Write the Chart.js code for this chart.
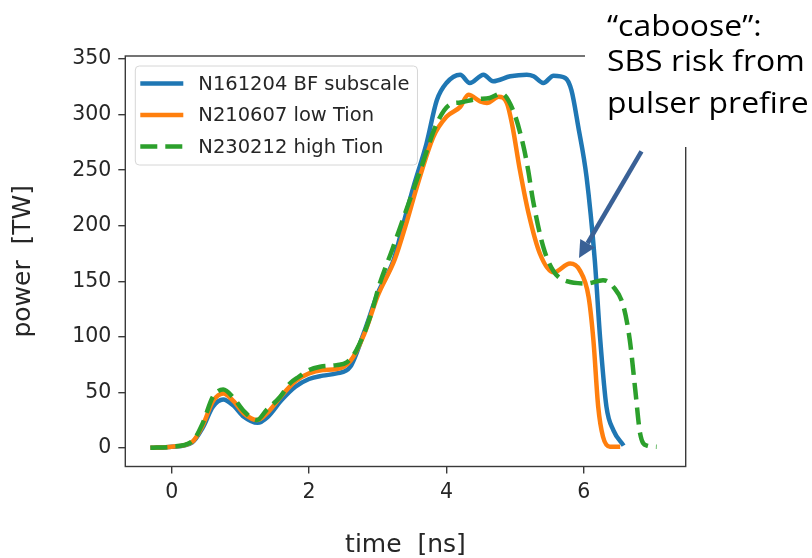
<!DOCTYPE html>
<html>
<head>
<meta charset="utf-8">
<script src="https://cdn.jsdelivr.net/npm/chart.js@4.4.1/dist/chart.umd.min.js"></script>
<style>
    html, body { margin: 0; padding: 0; background: #fff; }
</style>
</head>
<body>
<canvas id="power-chart" width="812" height="558"></canvas>
<script>
// N161204 BF subscale
const timeN161204 = [-0.31, 0.0, 0.3, 0.45, 0.6, 0.75, 0.9, 1.05, 1.25, 1.4, 1.6, 1.8, 2.0, 2.2, 2.4, 2.6, 2.8, 3.0, 3.23, 3.37, 3.52, 3.71, 3.86, 4.0, 4.2, 4.34, 4.54, 4.68, 4.93, 5.17, 5.27, 5.41, 5.56, 5.73, 5.82, 5.92, 6.04, 6.16, 6.24, 6.33, 6.43, 6.58];
const powerN161204 = [0, 1, 5, 18, 37, 43.5, 38, 28, 22.5, 28, 43, 55, 62, 65, 67, 73, 104, 139, 169, 201, 235, 274, 313, 328.5, 336, 328.5, 336, 330, 334.5, 336, 334.5, 328.5, 335, 333, 322, 289, 244, 169, 97, 37, 16, 2];

// N210607 low Tion
const timeN210607 = [-0.31, 0.0, 0.3, 0.45, 0.6, 0.75, 0.9, 1.05, 1.25, 1.4, 1.6, 1.8, 2.0, 2.2, 2.4, 2.6, 2.8, 3.0, 3.25, 3.41, 3.57, 3.81, 4.0, 4.2, 4.32, 4.49, 4.59, 4.76, 4.88, 4.96, 5.07, 5.2, 5.36, 5.56, 5.8, 5.94, 6.07, 6.14, 6.21, 6.28, 6.38, 6.53];
const powerN210607 = [0, 1, 5.5, 20, 42, 49, 42, 31, 25, 32, 47, 60, 67, 70, 71, 78, 102, 137, 170, 201, 235, 280, 298, 307, 318, 312, 310.5, 316, 310.5, 290, 250, 210, 175, 158, 166, 160, 136, 97, 37, 10, 1, 1];

// N230212 high Tion
const timeN230212 = [-0.31, 0.0, 0.3, 0.45, 0.6, 0.75, 0.9, 1.05, 1.24, 1.38, 1.58, 1.72, 1.85, 2.0, 2.16, 2.4, 2.55, 2.69, 2.89, 3.03, 3.22, 3.38, 3.62, 3.86, 4.05, 4.2, 4.44, 4.63, 4.8, 4.97, 5.12, 5.19, 5.26, 5.41, 5.56, 5.75, 6.04, 6.28, 6.43, 6.58, 6.67, 6.75, 6.82, 6.92, 7.06];
const powerN230212 = [0, 1, 6, 22, 46, 52.5, 45, 33, 25, 34, 46, 58, 64, 70, 73, 74.5, 77, 88, 118, 148, 180, 208, 250, 292, 309, 311, 314, 315, 319, 304, 272, 250, 223, 181, 159, 150, 148, 151, 145, 127, 97, 52, 13, 2, 1];

const xTicks = [0, 2, 4, 6];
const yTicks = [0, 50, 100, 150, 200, 250, 300, 350];
const xRange = [-0.676, 7.484];
const yRange = [-16.8, 352.8];

// note + arrow (arrow ends given in data units)
const noteLines = ['\u201Ccaboose\u201D:', 'SBS risk from', 'pulser prefire'];
const arrowFrom = { x: 6.84, y: 267 };
const arrowTo = { x: 5.93, y: 171 };

function toPoints(times, powers) {
    return times.map((t, i) => ({ x: t, y: powers[i] }));
}

Chart.defaults.font.family = '"DejaVu Sans", sans-serif';
Chart.defaults.color = '#262626';

// matplotlib style frame round the plot area
const frame = {
    id: 'frame',
    afterDatasetsDraw(chart) {
        const { ctx, chartArea: a } = chart;
        ctx.save();
        ctx.strokeStyle = '#3a3a3a';
        ctx.lineWidth = 1.4;
        ctx.strokeRect(a.left, a.top, a.right - a.left, a.bottom - a.top);
        ctx.restore();
    }
};

// legend sitting inside the axes, upper left
const insideLegend = {
    id: 'insideLegend',
    afterDraw(chart) {
        const { ctx, chartArea: a } = chart;
        const sets = chart.data.datasets;
        ctx.save();
        ctx.font = '19.5px "DejaVu Sans"';
        const textW = Math.max(...sets.map(d => ctx.measureText(d.label).width));
        const x0 = a.left + 10, y0 = a.top + 10;
        const w = 63 + textW + 8, h = 99;
        ctx.beginPath();
        ctx.roundRect(x0, y0, w, h, 4);
        ctx.fillStyle = 'rgba(255,255,255,0.8)';
        ctx.fill();
        ctx.strokeStyle = '#d6d6d6';
        ctx.lineWidth = 1;
        ctx.stroke();
        sets.forEach((d, i) => {
            const cy = y0 + 17.5 + i * 31.5;
            ctx.beginPath();
            ctx.setLineDash(d.borderDash || []);
            ctx.strokeStyle = d.borderColor;
            ctx.lineWidth = d.borderWidth;
            ctx.moveTo(x0 + 5, cy);
            ctx.lineTo(x0 + 48, cy);
            ctx.stroke();
            ctx.setLineDash([]);
            ctx.fillStyle = '#262626';
            ctx.textBaseline = 'middle';
            ctx.fillText(d.label, x0 + 63, cy + 1);
        });
        ctx.restore();
    }
};

// slide text box (white, covers the frame corner) + arrow
const cabooseNote = {
    id: 'cabooseNote',
    afterDraw(chart) {
        const { ctx, scales } = chart;
        ctx.save();
        ctx.fillStyle = '#fff';
        ctx.fillRect(585, 0, chart.width - 585, 147);

        ctx.fillStyle = '#000';
        ctx.font = '29px "Open Sans"';
        ctx.textBaseline = 'alphabetic';
        const baselines = [36, 71, 113];
        noteLines.forEach((line, i) => {
            ctx.save();
            ctx.translate(607, baselines[i]);
            ctx.scale(1.1, 1);
            ctx.fillText(line, 0, 0);
            ctx.restore();
        });

        const x1 = scales.x.getPixelForValue(arrowFrom.x), y1 = scales.y.getPixelForValue(arrowFrom.y);
        const x2 = scales.x.getPixelForValue(arrowTo.x), y2 = scales.y.getPixelForValue(arrowTo.y);
        const ang = Math.atan2(y2 - y1, x2 - x1);
        const headLen = 17, headW = 8.5;
        const bx = x2 - headLen * Math.cos(ang), by = y2 - headLen * Math.sin(ang);

        ctx.strokeStyle = '#3a6196';
        ctx.fillStyle = '#3a6196';
        ctx.lineWidth = 4.5;
        ctx.beginPath();
        ctx.moveTo(x1, y1);
        ctx.lineTo(bx, by);
        ctx.stroke();
        ctx.beginPath();
        ctx.moveTo(x2, y2);
        ctx.lineTo(bx + headW * Math.sin(ang), by - headW * Math.cos(ang));
        ctx.lineTo(bx - headW * Math.sin(ang), by + headW * Math.cos(ang));
        ctx.closePath();
        ctx.fill();
        ctx.restore();
    }
};

new Chart(document.getElementById('power-chart'), {
    type: 'line',
    data: {
        datasets: [
            {
                label: 'N161204 BF subscale',
                data: toPoints(timeN161204, powerN161204),
                borderColor: '#1f77b4',
                borderWidth: 4.5,
                order: 3
            },
            {
                label: 'N210607 low Tion',
                data: toPoints(timeN210607, powerN210607),
                borderColor: '#ff7f0e',
                borderWidth: 4.5,
                order: 2
            },
            {
                label: 'N230212 high Tion',
                data: toPoints(timeN230212, powerN230212),
                borderColor: '#2ca02c',
                borderWidth: 4.5,
                borderDash: [17, 8],
                order: 1
            }
        ]
    },
    options: {
        responsive: false,
        animation: false,
        devicePixelRatio: 1,
        layout: { padding: { left: 0, right: 126.3, top: 56, bottom: 0 } },
        elements: {
            point: { radius: 0 },
            line: { cubicInterpolationMode: 'monotone', fill: false }
        },
        plugins: {
            legend: { display: false },
            tooltip: { enabled: false }
        },
        scales: {
            x: {
                type: 'linear',
                min: xRange[0],
                max: xRange[1],
                afterBuildTicks: s => { s.ticks = xTicks.map(v => ({ value: v })); },
                afterFit: s => { s.height = 91.5; },
                border: { display: false },
                grid: { drawOnChartArea: false, tickLength: 7, color: '#3a3a3a', lineWidth: 1.4 },
                ticks: { font: { size: 20.5 }, padding: 7, maxRotation: 0, autoSkip: false },
                title: {
                    display: true,
                    text: 'time  [ns]',
                    font: { size: 25, lineHeight: 1 },
                    padding: { top: 0, bottom: 0 }
                }
            },
            y: {
                type: 'linear',
                min: yRange[0],
                max: yRange[1],
                afterBuildTicks: s => { s.ticks = yTicks.map(v => ({ value: v })); },
                afterFit: s => { s.width = 125.3; },
                border: { display: false },
                grid: { drawOnChartArea: false, tickLength: 7, color: '#3a3a3a', lineWidth: 1.4 },
                ticks: { font: { size: 20.5 }, padding: 7, autoSkip: false },
                title: {
                    display: true,
                    text: 'power  [TW]',
                    font: { size: 25, lineHeight: 1 },
                    padding: { top: 11, bottom: 0 }
                }
            }
        }
    },
    plugins: [frame, insideLegend, cabooseNote]
});
</script>
</body>
</html>
